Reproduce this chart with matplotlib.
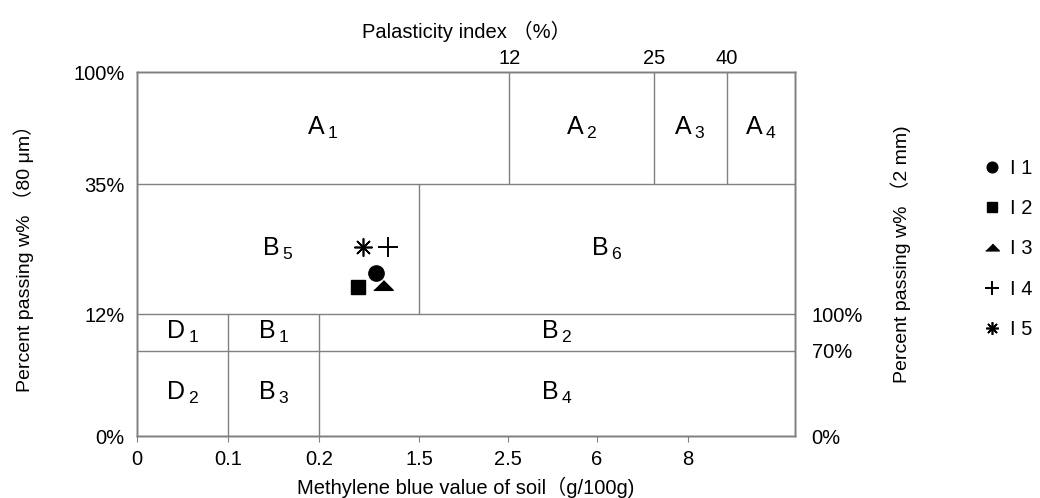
import numpy as np
import matplotlib
matplotlib.use("Agg")
import matplotlib.pyplot as plt

plt.rcParams["font.family"] = ["Liberation Sans", "Noto Sans CJK SC", "DejaVu Sans"]
plt.rcParams["mathtext.fontset"] = "custom"
plt.rcParams["mathtext.rm"] = "Liberation Sans"
plt.rcParams["mathtext.it"] = "Liberation Sans"

# bottom axis: methylene blue value (g/100g), drawn on an uneven scale
mbv_ticks = [0, 0.1, 0.2, 1.5, 2.5, 6, 8]
mbv_knots = [0, 0.1, 0.2, 1.5, 2.5, 6, 8, 10]
# top axis: plasticity index (%)
pi_ticks = [12, 25, 40]
pi_knots = [0, 12, 25, 40, 50]
# left axis: percent passing 80 um, right axis: percent passing 2 mm
w80_ticks = [0, 12, 35, 100]
w80_knots = [0, 12, 35, 100]
w2_ticks = [0, 70, 100]
w2_to_w80 = 0.12  # 100 % passing 2 mm sits on the 12 % line

# where the knots land on the drawing (layout only)
mbv_pos = [0, 1, 2, 3.1, 4.08, 5.05, 6.05, 7.23]
pi_pos = [0, 4.09, 5.68, 6.48, 7.23]
w80_pos = [0, 1.22, 2.52, 3.64]

# samples (MBV, % passing 80 um)
samples = ["I 1", "I 2", "I 3", "I 4", "I 5"]
sample_mbv = [0.94, 0.70, 1.03, 1.09, 0.77]
sample_w80 = [19.3, 16.8, 17.1, 23.9, 23.9]

# classification cells: name, axis, x0, x1, y0, y1
cells = [
    ("A_1", "pi", 0, 12, 35, 100),
    ("A_2", "pi", 12, 25, 35, 100),
    ("A_3", "pi", 25, 40, 35, 100),
    ("A_4", "pi", 40, 50, 35, 100),
    ("B_5", "mbv", 0, 1.5, 12, 35),
    ("B_6", "mbv", 1.5, 10, 12, 35),
    ("D_1", "mbv", 0, 0.1, 8.4, 12),
    ("B_1", "mbv", 0.1, 0.2, 8.4, 12),
    ("B_2", "mbv", 0.2, 10, 8.4, 12),
    ("D_2", "mbv", 0, 0.1, 0, 8.4),
    ("B_3", "mbv", 0.1, 0.2, 0, 8.4),
    ("B_4", "mbv", 0.2, 10, 0, 8.4),
]


def mbv_f(v):
    return np.interp(v, mbv_knots, mbv_pos)


def mbv_i(p):
    return np.interp(p, mbv_pos, mbv_knots)


def pi_f(v):
    return np.interp(v, pi_knots, pi_pos)


def pi_i(p):
    return np.interp(p, pi_pos, pi_knots)


def w80_f(v):
    return np.interp(v, w80_knots, w80_pos)


def w80_i(p):
    return np.interp(p, w80_pos, w80_knots)


def w2_f(v):
    return w80_f(np.asarray(v) * w2_to_w80)


def w2_i(p):
    return w80_i(p) / w2_to_w80


GRID = "#808080"
FS = 14.5
fig = plt.figure(figsize=(10.4, 4.98), dpi=100)
ax = fig.add_axes([137 / 1040, 62 / 498, 658 / 1040, 364 / 498])
ax.set_xscale("function", functions=(mbv_f, mbv_i))
ax.set_yscale("function", functions=(w80_f, w80_i))
ax.set_xlim(0, 10)
ax.set_ylim(0, 100)

axt = ax.twiny()
axt.set_xscale("function", functions=(pi_f, pi_i))
axt.set_xlim(0, 50)
axr = ax.twinx()
axr.set_yscale("function", functions=(w2_f, w2_i))
axr.set_ylim(0, 100 / w2_to_w80)

for a in (ax, axt, axr):
    for s in a.spines.values():
        s.set_color(GRID)
        s.set_linewidth(1)

# boundaries
ax.hlines([12, 35], 0, 10, color=GRID, lw=1)
axr.hlines(70, 0, 10, color=GRID, lw=1)
ax.vlines(1.5, 12, 35, color=GRID, lw=1)
ax.vlines([0.1, 0.2], 0, 12, color=GRID, lw=1)
axt.vlines(pi_ticks, 35, 100, color=GRID, lw=1)

# cell names
for name, kind, x0, x1, y0, y1 in cells:
    f, fi = (pi_f, pi_i) if kind == "pi" else (mbv_f, mbv_i)
    a = axt if kind == "pi" else ax
    xc = fi((f(x0) + f(x1)) / 2)
    yc = w80_i((w80_f(y0) + w80_f(y1)) / 2)
    a.text(xc, yc, r"$\mathregular{%s_{\;%s}}$" % tuple(name.split("_")),
           ha="center", va="center", fontsize=18)

# samples
tri = [(-1, -0.5), (1, -0.5), (0, 0.5)]
styles = [
    dict(marker="o", ms=11),
    dict(marker="s", ms=10),
    dict(marker=tri, ms=14),
    dict(marker="+", ms=15, mew=1.4),
    dict(marker=(8, 2, 0), ms=13, mew=1.2),
]
for name, x, y, st in zip(samples, sample_mbv, sample_w80, styles):
    ax.plot([x], [y], ls="none", color="black", label=name, **st)

# axes ticks and labels
ax.set_xticks(mbv_ticks)
ax.set_xticklabels([f"{v:g}" for v in mbv_ticks])
ax.tick_params(axis="x", length=4, color=GRID, labelsize=FS, pad=6)
ax.set_yticks(w80_ticks)
ax.set_yticklabels([f"{v}%" for v in w80_ticks])
ax.tick_params(axis="y", length=0, labelsize=FS, pad=9)
ax.minorticks_off()

axt.set_xticks(pi_ticks)
axt.set_xticklabels([str(v) for v in pi_ticks])
axt.tick_params(axis="x", length=0, labelsize=FS, pad=3)
axt.minorticks_off()

axr.set_yticks(w2_ticks)
axr.set_yticklabels([f"{v}%" for v in w2_ticks])
axr.tick_params(axis="y", length=0, labelsize=FS, pad=12)
axr.minorticks_off()

ax.set_xlabel("Methylene blue value of soil（g/100g)", fontsize=FS, labelpad=6)
axt.set_xlabel("Palasticity index （%）", fontsize=FS, labelpad=8)
ax.set_ylabel("Percent passing w% （80 μm）", fontsize=14, labelpad=28)
axr.set_ylabel("Percent passing w% （2 mm)", fontsize=14, labelpad=20)

h, l = ax.get_legend_handles_labels()
fig.legend(h, l, loc="center left", bbox_to_anchor=(0.936, 0.5), frameon=False,
           fontsize=FS, markerscale=0.7, labelspacing=1.05, handlelength=1.0,
           handletextpad=0.4, borderaxespad=0)

fig.savefig("out.png", dpi=100)
